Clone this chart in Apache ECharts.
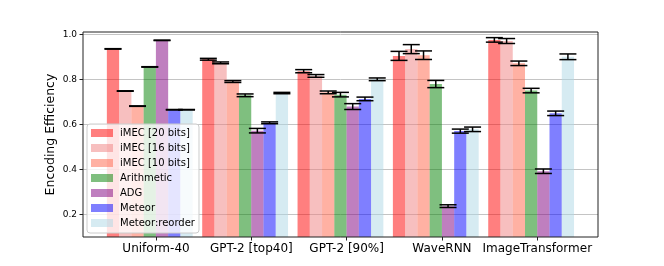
<!DOCTYPE html>
<html>
<head>
<meta charset="utf-8">
<script src="https://cdn.jsdelivr.net/npm/echarts@6/dist/echarts.min.js"></script>
<style>
html,body{margin:0;padding:0;background:#fff;}
#chart{width:664px;height:266px;}
</style>
</head>
<body>
<div id="chart"></div>
<script>
const categories = ['Uniform-40', 'GPT-2 [top40]', 'GPT-2 [90%]', 'WaveRNN', 'ImageTransformer'];
const seriesNames = ['iMEC [20 bits]', 'iMEC [16 bits]', 'iMEC [10 bits]', 'Arithmetic', 'ADG', 'Meteor', 'Meteor:reorder'];
const yTicks = [0.2, 0.4, 0.6, 0.8, 1.0];

const imec20 = [0.935, 0.889, 0.836, 0.904, 0.975];
const imec16 = [0.748, 0.873, 0.815, 0.934, 0.970];
const imec10 = [0.681, 0.790, 0.742, 0.907, 0.871];
const arithmetic = [0.855, 0.729, 0.732, 0.779, 0.750];
const adg = [0.973, 0.572, 0.679, 0.237, 0.392];
const meteor = [0.665, 0.607, 0.713, 0.570, 0.649];
const meteorReorder = [0.665, 0.739, 0.800, 0.578, 0.900];

const imec20Err = [0.001, 0.004, 0.007, 0.020, 0.010];
const imec16Err = [0.001, 0.004, 0.006, 0.020, 0.011];
const imec10Err = [0.001, 0.004, 0.006, 0.019, 0.010];
const arithmeticErr = [0.001, 0.006, 0.010, 0.016, 0.010];
const adgErr = [0.001, 0.010, 0.013, 0.006, 0.010];
const meteorErr = [0.001, 0.004, 0.008, 0.009, 0.010];
const meteorReorderErr = [0.001, 0.003, 0.006, 0.010, 0.0126];

const allValues = [imec20, imec16, imec10, arithmetic, adg, meteor, meteorReorder];
const allErrors = [imec20Err, imec16Err, imec10Err, arithmeticErr, adgErr, meteorErr, meteorReorderErr];
const colors = ['#ff0000', '#f08080', '#ff6347', '#008000', '#800080', '#0000ff', '#add8e6'];

const FONT = 'DejaVu Sans';
const NB = seriesNames.length;
const CAT_GAP = 0.1;

const barSeries = seriesNames.map((name, k) => ({
  name: name,
  type: 'bar',
  xAxisIndex: 1,
  yAxisIndex: 1,
  data: allValues[k],
  barGap: '0%',
  barCategoryGap: '10%',
  itemStyle: { color: colors[k], opacity: 0.5 },
  emphasis: { disabled: true },
  z: 2
}));

const errData = [];
for (let k = 0; k < NB; k++) {
  for (let i = 0; i < categories.length; i++) {
    errData.push([i, k, allValues[k][i], allErrors[k][i]]);
  }
}

const errSeries = {
  type: 'custom',
  xAxisIndex: 1,
  yAxisIndex: 1,
  z: 5,
  silent: true,
  encode: { x: 0, y: 2 },
  data: errData,
  renderItem: function (params, api) {
    const cat = api.value(0);
    const k = api.value(1);
    const v = api.value(2);
    const e = api.value(3);
    const band = api.size([1, 0])[0];
    const bw = band * (1 - CAT_GAP) / NB;
    const c = api.coord([cat, v]);
    const x = c[0] + (k - (NB - 1) / 2) * bw;
    const yTop = api.coord([cat, v + e])[1];
    const yBot = api.coord([cat, v - e])[1];
    const hw = 8.5;
    const st = { stroke: '#000', lineWidth: 1.5 };
    return {
      type: 'group',
      children: [
        { type: 'line', shape: { x1: x, y1: yTop, x2: x, y2: yBot }, style: st },
        { type: 'line', shape: { x1: x - hw, y1: yTop, x2: x + hw, y2: yTop }, style: st },
        { type: 'line', shape: { x1: x - hw, y1: yBot, x2: x + hw, y2: yBot }, style: st }
      ]
    };
  }
};

const chart = echarts.init(document.getElementById('chart'), null, { renderer: 'canvas' });
chart.setOption({
  animation: false,
  backgroundColor: '#fff',
  textStyle: { fontFamily: FONT },
  grid: [
    { left: 83, right: 66, top: 32, bottom: 29, show: true, borderColor: '#222', borderWidth: 1, backgroundColor: 'transparent', z: 3 },
    { left: 102.1, right: 85.2, top: 32, bottom: 29, show: false }
  ],
  xAxis: [
    {
      type: 'value', gridIndex: 0, min: -0.766, max: 4.637, position: 'bottom',
      axisLine: { show: false, onZero: false },
      splitLine: { show: false },
      axisTick: { show: true, inside: false, length: 3.5, lineStyle: { color: '#222', width: 1 }, customValues: [0, 1, 2, 3, 4] },
      axisLabel: {
        customValues: [0, 1, 2, 3, 4], margin: 6, fontSize: 12, color: '#000', fontFamily: FONT,
        formatter: function (v) { return categories[Math.round(v)]; }
      }
    },
    {
      type: 'category', gridIndex: 1, data: categories, show: false,
      axisLine: { onZero: false },
      axisTick: { show: false }, axisLabel: { show: false }
    }
  ],
  yAxis: [
    {
      type: 'value', gridIndex: 0, min: 0.1, max: 1.01, position: 'left',
      name: 'Encoding Efficiency', nameLocation: 'middle', nameRotate: 90, nameGap: 26, nameMoveOverlap: false,
      nameTextStyle: { fontSize: 12.5, color: '#000', fontFamily: FONT },
      axisLine: { show: false, onZero: false },
      axisTick: { show: true, inside: false, length: 3.5, lineStyle: { color: '#222', width: 1 }, customValues: yTicks },
      axisLabel: { customValues: yTicks, fontSize: 9, color: '#000', margin: 6, fontFamily: FONT, formatter: function (v) { return v.toFixed(1); } },
      splitLine: { show: true, lineStyle: { color: '#c4c4c4', width: 1 } }
    },
    { type: 'value', gridIndex: 1, min: 0.1, max: 1.01, show: false, axisLine: { onZero: false }, splitLine: { show: false } }
  ],
  legend: {
    data: seriesNames,
    orient: 'vertical',
    left: 87, top: 124,
    icon: 'rect',
    itemWidth: 22, itemHeight: 8, itemGap: 3,
    padding: [3, 4, 4, 4],
    backgroundColor: 'rgba(255,255,255,0.8)',
    borderColor: '#cccccc', borderWidth: 1, borderRadius: 3,
    textStyle: { fontSize: 10, color: '#000', fontFamily: FONT, lineHeight: 12, padding: [0, 0, 0, 2] },
    itemStyle: { opacity: 0.5 },
    selectedMode: false,
    z: 10
  },
  series: barSeries.concat([errSeries])
});
</script>
</body>
</html>
